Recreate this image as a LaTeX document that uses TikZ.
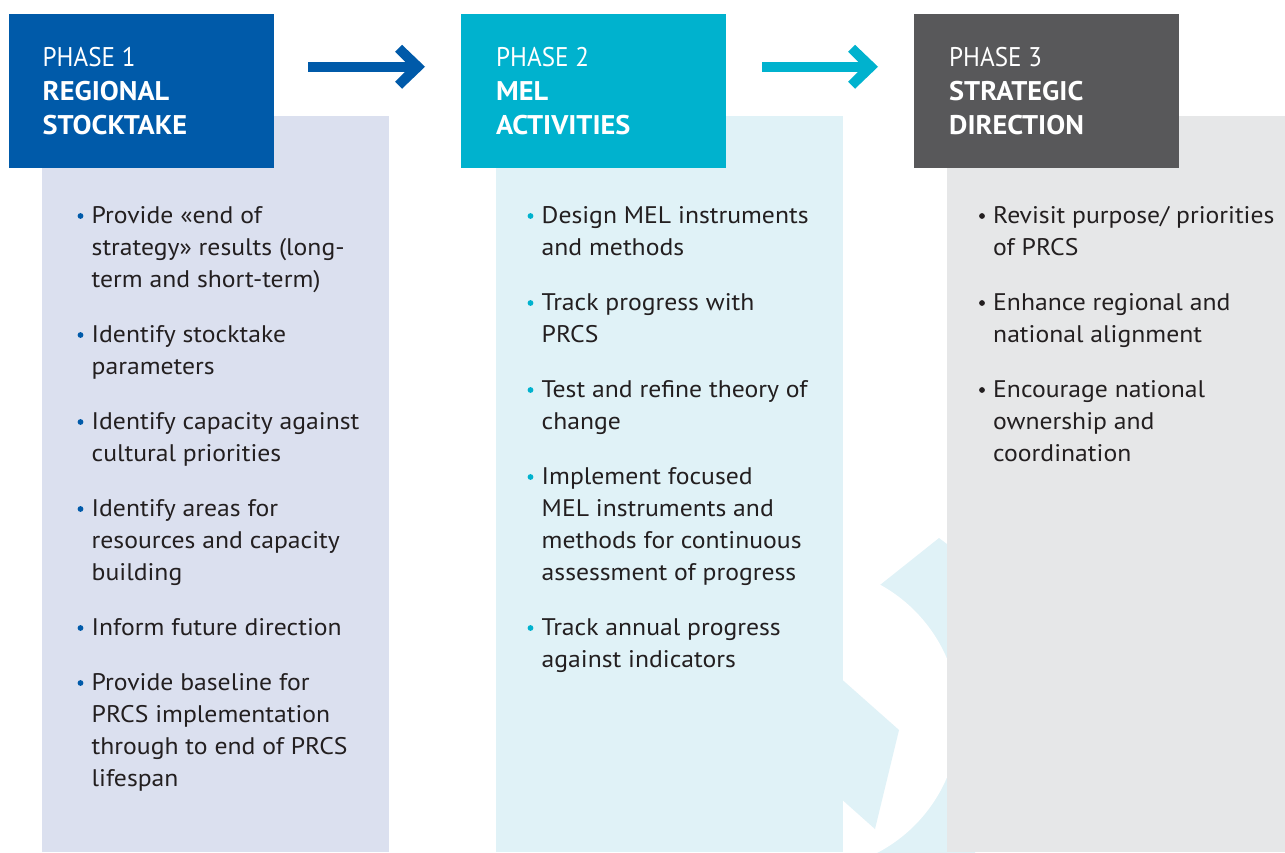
\documentclass[tikz,border=0pt]{standalone}
\usepackage{fontspec}
\setmainfont{PT Sans}[FakeStretch=1.07]
\newfontfamily\phasefont{PT Sans}[FakeStretch=0.93]
\newfontfamily\titlefont{PT Sans}[FakeStretch=1.05]
\usetikzlibrary{calc}

\definecolor{phaseblue}{HTML}{005AA9}
\definecolor{paleblue}{HTML}{DBE0EF}
\definecolor{phasecyan}{HTML}{00B2CE}
\definecolor{palecyan}{HTML}{E0F2F7}
\definecolor{phasegrey}{HTML}{58585A}
\definecolor{palegrey}{HTML}{E6E7E8}
\definecolor{ink}{HTML}{231F20}

\tikzset{
  headbox/.style={inner sep=0pt, outer sep=0pt, minimum width=265pt, minimum height=153.5pt, anchor=north west},
  panel/.style={inner sep=0pt, outer sep=0pt, minimum height=736pt, anchor=north west},
  headtext/.style={anchor=base west, inner sep=0pt, text=white, font=\fontsize{27}{34}\selectfont},
  bultext/.style={anchor=base west, inner sep=0pt, text=ink, font=\fontsize{24}{32}\selectfont},
  dot/.style={radius=2.9pt},
  shaft/.style={line width=10pt},
}

% lines of a bullet item, first baseline at the node's base
\newcommand\lines[1]{\parbox[t]{400pt}{#1}}
% three-line phase heading: number line, then two bold lines
\newcommand\heading[3]{\lines{{\phasefont #1}\\{\titlefont\bfseries #2}\\{\titlefont\bfseries #3}}}

\begin{document}
\begin{tikzpicture}[x=1pt,y=-1pt]
\useasboundingbox (0,0) rectangle (1285,852);

% faint circular-arrow mark between the second and third panels
\fill[palecyan] (880,585) -- (939,538) -- (975,565) -- (975,870) -- (860,870) -- cycle;
\fill[white] (807,718) circle (152pt);
\fill[palecyan] (820,660) -- (899,730) -- (875,829) -- (820,780) -- cycle;

% pale panels
\node[panel, fill=paleblue, minimum width=347pt] (p1) at (42,116) {};
\node[panel, fill=palecyan, minimum width=347pt] (p2) at (496,116) {};
\node[panel, fill=palegrey, minimum width=338pt] (p3) at (947,116) {};

% phase headers
\node[headbox, fill=phaseblue] (h1) at (9,14) {};
\node[headbox, fill=phasecyan] (h2) at (461,14) {};
\node[headbox, fill=phasegrey] (h3) at (914,14) {};

\node[headtext] (t1) at (42.5,66) {\heading{PHASE 1}{REGIONAL}{STOCKTAKE}};
\node[headtext] (t2) at (496,66) {\heading{PHASE 2}{MEL}{ACTIVITIES}};
\node[headtext] (t3) at (949,66) {\heading{PHASE 3}{STRATEGIC}{DIRECTION}};

% arrows between the headers
\coordinate (a1s) at ([xshift=34pt,yshift=24pt]h1.east);
\coordinate (a1e) at ([xshift=-36pt,yshift=24pt]h2.west);
\coordinate (a2s) at ([xshift=36pt,yshift=24pt]h2.east);
\coordinate (a2e) at ([xshift=-36pt,yshift=24pt]h3.west);
\draw[shaft, phaseblue] (a1s) -- ([xshift=-15pt]a1e);
\fill[phaseblue] ([shift={(-23,-22)}]a1e) -- (a1e) -- ([shift={(-23,22)}]a1e)
  -- ([shift={(-30,15)}]a1e) -- ([shift={(-15,0)}]a1e) -- ([shift={(-30,-15)}]a1e) -- cycle;
\draw[shaft, phasecyan] (a2s) -- ([xshift=-15pt]a2e);
\fill[phasecyan] ([shift={(-23,-22)}]a2e) -- (a2e) -- ([shift={(-23,22)}]a2e)
  -- ([shift={(-30,15)}]a2e) -- ([shift={(-15,0)}]a2e) -- ([shift={(-30,-15)}]a2e) -- cycle;

% phase 1 items
\node[bultext] (b11) at (91.5,223) {\lines{Provide «end of\\strategy» results (long-\\term and short-term)}};
\node[bultext] (b12) at (91.5,342) {\lines{Identify stocktake\\parameters}};
\node[bultext] (b13) at (91.5,429) {\lines{Identify capacity against\\cultural priorities}};
\node[bultext] (b14) at (91.5,516) {\lines{Identify areas for\\resources and capacity\\building}};
\node[bultext] (b15) at (91.5,635) {\lines{Inform future direction}};
\node[bultext] (b16) at (91.5,690) {\lines{Provide baseline for\\PRCS implementation\\through to end of PRCS\\lifespan}};
\foreach \n in {b11,b12,b13,b14,b15,b16}
  \fill[phaseblue] ([xshift=-11pt,yshift=7pt]\n.base west) circle[dot];

% phase 2 items
\node[bultext] (b21) at (541.5,223) {\lines{Design MEL instruments\\and methods}};
\node[bultext] (b22) at (541.5,310) {\lines{Track progress with\\PRCS}};
\node[bultext] (b23) at (541.5,397) {\lines{Test and refine theory of\\change}};
\node[bultext] (b24) at (541.5,484) {\lines{Implement focused\\MEL instruments and\\methods for continuous\\assessment of progress}};
\node[bultext] (b25) at (541.5,635) {\lines{Track annual progress\\against indicators}};
\foreach \n in {b21,b22,b23,b24,b25}
  \fill[phasecyan] ([xshift=-11pt,yshift=7pt]\n.base west) circle[dot];

% phase 3 items
\node[bultext] (b31) at (993,223) {\lines{Revisit purpose/ priorities\\of PRCS}};
\node[bultext] (b32) at (993,310) {\lines{Enhance regional and\\national alignment}};
\node[bultext] (b33) at (993,397) {\lines{Encourage national\\ownership and\\coordination}};
\foreach \n in {b31,b32,b33}
  \fill[ink] ([xshift=-11pt,yshift=7pt]\n.base west) circle[dot];

\end{tikzpicture}
\end{document}
